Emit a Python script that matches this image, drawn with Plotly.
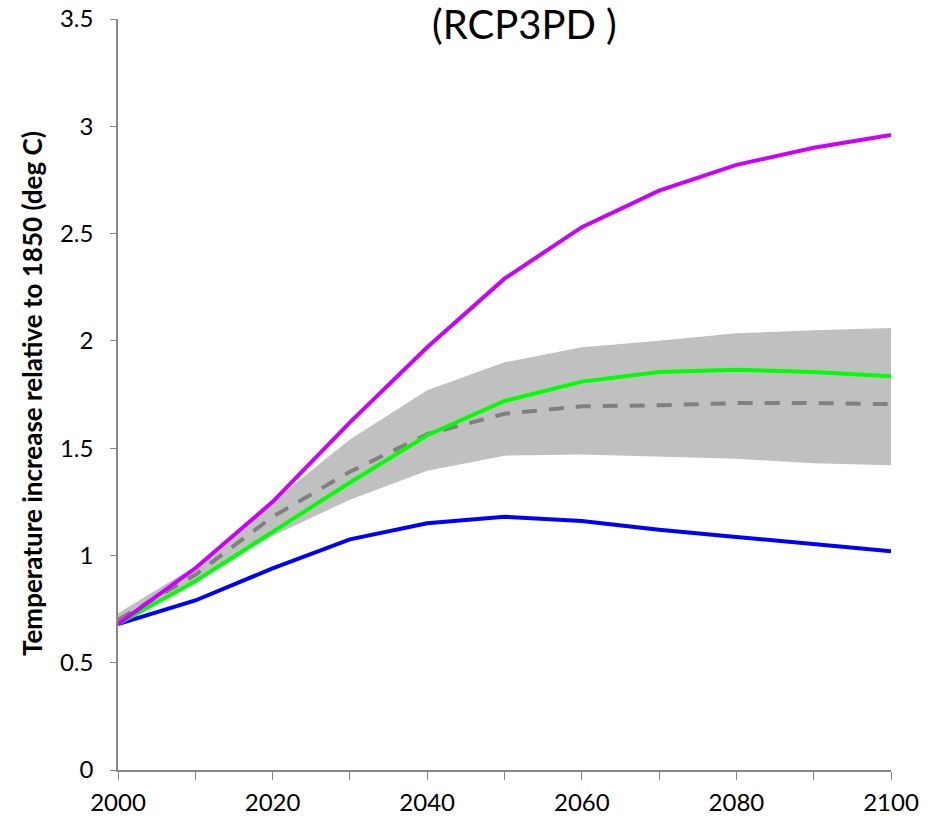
import plotly.graph_objects as go

years = [2000, 2010, 2020, 2030, 2040, 2050, 2060, 2070, 2080, 2090, 2100]
high = [0.68, 0.94, 1.25, 1.62, 1.97, 2.29, 2.53, 2.70, 2.82, 2.90, 2.96]
mid = [0.68, 0.88, 1.11, 1.34, 1.56, 1.72, 1.81, 1.855, 1.865, 1.855, 1.835]
low = [0.68, 0.79, 0.94, 1.075, 1.15, 1.18, 1.16, 1.12, 1.086, 1.053, 1.02]
median = [0.70, 0.91, 1.18, 1.39, 1.565, 1.66, 1.695, 1.70, 1.71, 1.71, 1.705]
band_upper = [0.73, 0.95, 1.25, 1.54, 1.77, 1.90, 1.97, 2.00, 2.035, 2.05, 2.06]
band_lower = [0.68, 0.87, 1.09, 1.26, 1.395, 1.465, 1.47, 1.46, 1.45, 1.43, 1.42]

x_tickvals = list(range(2000, 2101, 10))
x_ticktext = [str(v) if (v - 2000) % 20 == 0 else "" for v in x_tickvals]
y_tickvals = [0, 0.5, 1, 1.5, 2, 2.5, 3, 3.5]
y_ticktext = ["0", "0.5", "1", "1.5", "2", "2.5", "3", "3.5"]

fig = go.Figure()
fig.add_trace(go.Scatter(x=years, y=band_lower, mode="lines", line=dict(width=0, color="#c0c0c0"),
                         showlegend=False, hoverinfo="skip"))
fig.add_trace(go.Scatter(x=years, y=band_upper, mode="lines", line=dict(width=0, color="#c0c0c0"),
                         fill="tonexty", fillcolor="#c0c0c0", showlegend=False, hoverinfo="skip"))
fig.add_trace(go.Scatter(x=years, y=median, mode="lines",
                         line=dict(color="#808080", width=4, dash="15px,12px"), showlegend=False))
fig.add_trace(go.Scatter(x=years, y=low, mode="lines", line=dict(color="#0000ff", width=4), showlegend=False))
fig.add_trace(go.Scatter(x=years, y=mid, mode="lines", line=dict(color="#00ff00", width=4), showlegend=False))
fig.add_trace(go.Scatter(x=years, y=high, mode="lines", line=dict(color="#cc00ff", width=4), showlegend=False))

font_family = "Lato, 'Open Sans', sans-serif"
W, H = 931, 820
L, R, T, B = 118, 40, 19, 50
pw, ph = W - L - R, H - T - B

fig.update_layout(
    width=W, height=H,
    margin=dict(l=L, r=R, t=T, b=B, autoexpand=False),
    plot_bgcolor="white", paper_bgcolor="white",
    font=dict(family=font_family, size=24, color="black"),
    xaxis=dict(range=[2000, 2100], tickvals=x_tickvals, ticktext=x_ticktext, automargin=False,
               showgrid=False, zeroline=False, showline=True, linecolor="#888888", linewidth=1.5,
               ticks="outside", ticklen=8, tickcolor="#888888", tickfont=dict(size=24),
               ticklabelstandoff=2),
    yaxis=dict(range=[0, 3.5], tickvals=y_tickvals, ticktext=y_ticktext, automargin=False,
               showgrid=False, zeroline=False, showline=True, linecolor="#888888", linewidth=1.5,
               ticks="outside", ticklen=6, tickcolor="#888888", tickfont=dict(size=24),
               ticklabelstandoff=12),
    annotations=[
        dict(text="(RCP3PD )", x=(524 - L) / pw, y=1 + (T - 24) / ph, xref="paper", yref="paper",
             showarrow=False, font=dict(size=40, family=font_family), xanchor="center", yanchor="middle"),
        dict(text="<b>Temperature increase relative to 1850 (deg C)</b>", textangle=-90,
             x=(32 - L) / pw, y=(770 - 394) / ph, xref="paper", yref="paper",
             showarrow=False, font=dict(size=26, family=font_family), xanchor="center", yanchor="middle"),
    ],
)

fig.write_html("out.html")
